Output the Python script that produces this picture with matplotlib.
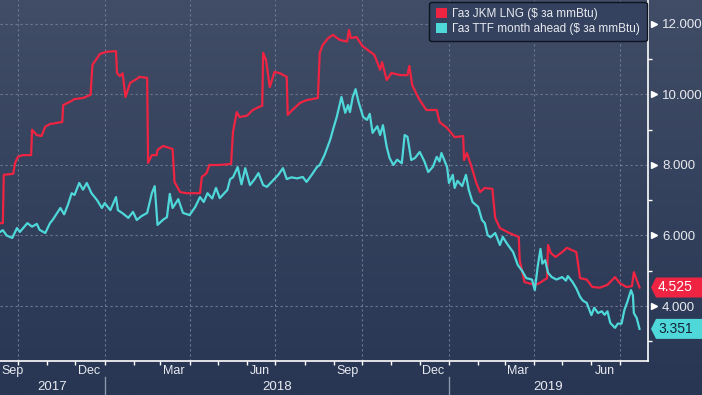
import numpy as np
import pandas as pd
import matplotlib
matplotlib.use("Agg")
import matplotlib.pyplot as plt
import matplotlib.dates as mdates
from matplotlib.patches import Patch, Polygon

plt.rcParams['font.family'] = ['Liberation Sans', 'DejaVu Sans']

# --- data ---
JKM_LABEL = "Газ JKM LNG ($ за mmBtu)"
TTF_LABEL = "Газ TTF month ahead ($ за mmBtu)"

jkm_dates = ["2017-09-12", "2017-09-15", "2017-09-16", "2017-09-26", "2017-09-28", "2017-10-01",
             "2017-10-06", "2017-10-15", "2017-10-16", "2017-10-21", "2017-10-26", "2017-10-30",
             "2017-11-04", "2017-11-17", "2017-11-18", "2017-11-25", "2017-11-30", "2017-12-09",
             "2017-12-17", "2017-12-19", "2017-12-27", "2018-01-03", "2018-01-13", "2018-01-14",
             "2018-01-17", "2018-01-20", "2018-01-23", "2018-01-28", "2018-02-04", "2018-02-07",
             "2018-02-15", "2018-02-16", "2018-02-20", "2018-02-25", "2018-02-26", "2018-03-04",
             "2018-03-11", "2018-03-14", "2018-03-16", "2018-03-22", "2018-03-29", "2018-04-12",
             "2018-04-14", "2018-04-19", "2018-04-22", "2018-05-03", "2018-05-15", "2018-05-17",
             "2018-05-21", "2018-05-24", "2018-06-01", "2018-06-07", "2018-06-14", "2018-06-17",
             "2018-06-18", "2018-06-21", "2018-06-25", "2018-06-30", "2018-07-06", "2018-07-13",
             "2018-07-14", "2018-07-19", "2018-07-27", "2018-08-03", "2018-08-15", "2018-08-17",
             "2018-08-20", "2018-08-26", "2018-08-31", "2018-09-07", "2018-09-15", "2018-09-17",
             "2018-09-19", "2018-09-25", "2018-10-01", "2018-10-07", "2018-10-14", "2018-10-20",
             "2018-10-22", "2018-10-27", "2018-11-01", "2018-11-10", "2018-11-18", "2018-11-20",
             "2018-11-23", "2018-11-28", "2018-12-01", "2018-12-08", "2018-12-19", "2018-12-22",
             "2018-12-30", "2019-01-07", "2019-01-16", "2019-01-17", "2019-01-20", "2019-01-25",
             "2019-01-30", "2019-02-03", "2019-02-08", "2019-02-16", "2019-02-19", "2019-02-24",
             "2019-03-06", "2019-03-16", "2019-03-17", "2019-03-22", "2019-03-30", "2019-04-05",
             "2019-04-15", "2019-04-16", "2019-04-19", "2019-04-24", "2019-05-01", "2019-05-06",
             "2019-05-16", "2019-05-20", "2019-05-27", "2019-06-02", "2019-06-10", "2019-06-18",
             "2019-06-26", "2019-07-01", "2019-07-08", "2019-07-14", "2019-07-16", "2019-07-22"]
jkm_vals = [6.35, 6.35, 7.72, 7.75, 8.06, 8.23,
            8.28, 8.28, 9.00, 8.85, 8.82, 9.09,
            9.16, 9.22, 9.70, 9.79, 9.87, 9.90,
            9.99, 10.84, 11.15, 11.21, 11.23, 10.61,
            10.52, 10.60, 9.93, 10.33, 10.44, 10.50,
            10.47, 8.06, 8.28, 8.28, 8.43, 8.54,
            8.48, 8.45, 7.52, 7.23, 7.20, 7.20,
            7.66, 7.77, 8.00, 8.00, 8.03, 8.94,
            9.50, 9.36, 9.40, 9.56, 9.65, 9.68,
            11.18, 10.98, 10.21, 10.64, 10.60, 10.50,
            9.42, 9.56, 9.76, 9.84, 9.90, 11.18,
            11.40, 11.60, 11.69, 11.55, 11.50, 11.83,
            11.60, 11.63, 11.38, 11.26, 11.12, 10.70,
            10.92, 10.41, 10.61, 10.55, 10.55, 10.81,
            10.27, 9.99, 9.84, 9.56, 9.56, 9.22,
            9.05, 8.79, 8.82, 8.14, 8.34, 7.94,
            7.49, 7.23, 7.35, 7.32, 6.50, 6.21,
            6.07, 5.96, 5.30, 4.68, 4.62, 4.62,
            4.79, 5.73, 5.50, 5.39, 5.53, 5.65,
            5.53, 4.79, 4.75, 4.54, 4.52, 4.60,
            4.82, 4.65, 4.54, 4.56, 4.96, 4.525]

ttf_dates = ["2017-09-12", "2017-09-15", "2017-09-19", "2017-09-25", "2017-09-30", "2017-10-03",
             "2017-10-11", "2017-10-16", "2017-10-21", "2017-10-24", "2017-10-30", "2017-11-04",
             "2017-11-07", "2017-11-15", "2017-11-19", "2017-11-23", "2017-11-27", "2017-11-30",
             "2017-12-05", "2017-12-09", "2017-12-13", "2017-12-18", "2017-12-24", "2017-12-29",
             "2018-01-01", "2018-01-07", "2018-01-13", "2018-01-15", "2018-01-20", "2018-01-26",
             "2018-01-31", "2018-02-04", "2018-02-09", "2018-02-15", "2018-02-20", "2018-02-23",
             "2018-02-26", "2018-03-04", "2018-03-08", "2018-03-11", "2018-03-14", "2018-03-20",
             "2018-03-25", "2018-04-01", "2018-04-07", "2018-04-12", "2018-04-16", "2018-04-20",
             "2018-04-25", "2018-04-29", "2018-05-03", "2018-05-11", "2018-05-14", "2018-05-17",
             "2018-05-22", "2018-05-26", "2018-05-30", "2018-06-04", "2018-06-09", "2018-06-13",
             "2018-06-18", "2018-06-22", "2018-06-28", "2018-07-04", "2018-07-09", "2018-07-13",
             "2018-07-18", "2018-07-24", "2018-07-30", "2018-08-03", "2018-08-09", "2018-08-14",
             "2018-08-17", "2018-08-22", "2018-08-28", "2018-08-31", "2018-09-04", "2018-09-09",
             "2018-09-13", "2018-09-16", "2018-09-18", "2018-09-21", "2018-09-24", "2018-09-27",
             "2018-10-02", "2018-10-06", "2018-10-09", "2018-10-12", "2018-10-17", "2018-10-20",
             "2018-10-23", "2018-10-27", "2018-10-30", "2018-11-03", "2018-11-07", "2018-11-12",
             "2018-11-15", "2018-11-18", "2018-11-22", "2018-11-26", "2018-12-01", "2018-12-06",
             "2018-12-10", "2018-12-15", "2018-12-19", "2018-12-22", "2018-12-24", "2018-12-30",
             "2019-01-01", "2019-01-05", "2019-01-07", "2019-01-10", "2019-01-15", "2019-01-19",
             "2019-01-22", "2019-01-26", "2019-02-01", "2019-02-05", "2019-02-08", "2019-02-11",
             "2019-02-14", "2019-02-19", "2019-02-24", "2019-02-27", "2019-03-04", "2019-03-10",
             "2019-03-15", "2019-03-19", "2019-03-24", "2019-03-30", "2019-04-02", "2019-04-05",
             "2019-04-08", "2019-04-10", "2019-04-13", "2019-04-16", "2019-04-20", "2019-04-25",
             "2019-05-01", "2019-05-05", "2019-05-07", "2019-05-12", "2019-05-16", "2019-05-20",
             "2019-05-23", "2019-05-27", "2019-06-01", "2019-06-04", "2019-06-08", "2019-06-12",
             "2019-06-15", "2019-06-18", "2019-06-21", "2019-06-26", "2019-06-29", "2019-07-03",
             "2019-07-06", "2019-07-09", "2019-07-13", "2019-07-15", "2019-07-16", "2019-07-19",
             "2019-07-22"]
ttf_vals = [6.10, 6.15, 6.00, 5.93, 6.21, 6.10,
            6.35, 6.25, 6.33, 6.16, 6.07, 6.35,
            6.45, 6.78, 6.60, 6.87, 7.20, 7.15,
            7.49, 7.30, 7.49, 7.20, 7.00, 6.78,
            6.92, 6.72, 7.09, 6.72, 6.63, 6.50,
            6.67, 6.44, 6.55, 6.64, 7.20, 7.40,
            6.30, 6.45, 6.52, 7.18, 6.78, 7.03,
            6.64, 6.58, 6.81, 7.09, 6.95, 7.20,
            7.05, 7.35, 7.06, 7.29, 7.60, 7.65,
            7.94, 7.45, 7.91, 7.43, 7.60, 7.77,
            7.43, 7.38, 7.55, 7.72, 7.91, 7.60,
            7.65, 7.62, 7.66, 7.52, 7.74, 7.94,
            8.00, 8.28, 8.71, 9.00, 9.36, 9.93,
            9.48, 9.70, 9.50, 9.93, 10.15, 9.80,
            9.36, 9.28, 9.45, 8.91, 9.10, 8.85,
            9.13, 8.51, 8.20, 8.00, 8.15, 8.05,
            8.85, 8.80, 8.14, 8.20, 8.37, 8.10,
            7.80, 7.95, 8.23, 8.10, 8.34, 7.94,
            7.49, 7.72, 7.35, 7.55, 7.40, 7.72,
            7.29, 6.95, 6.81, 6.44, 6.35, 6.01,
            5.95, 6.07, 5.73, 5.96, 5.75, 5.53,
            5.16, 5.02, 4.79, 4.75, 4.45, 5.11,
            5.62, 5.20, 5.30, 4.94, 4.82, 4.75,
            4.82, 4.72, 4.85, 4.68, 4.50, 4.26,
            4.15, 4.09, 3.74, 3.95, 3.80, 3.85,
            3.75, 3.85, 3.52, 3.38, 3.50, 3.50,
            3.89, 4.11, 4.45, 4.30, 3.80, 3.66,
            3.351]

y_ticks = [4, 6, 8, 10, 12]
month_labels = ["Sep", "Dec", "Mar", "Jun", "Sep", "Dec", "Mar", "Jun"]
month_label_dates = ["2017-09-15", "2017-12-15", "2018-03-15", "2018-06-15",
                     "2018-09-15", "2018-12-15", "2019-03-15", "2019-06-15"]
years = [2017, 2018, 2019]

RED = "#ee2442"
CYAN = "#4fd8da"
GRID = "#6c7a94"
TXT = "#e8eaef"

jkm_d = pd.to_datetime(jkm_dates)
ttf_d = pd.to_datetime(ttf_dates)
x_start, x_end = pd.Timestamp("2017-09-12"), pd.Timestamp("2019-07-31")
y_lo, y_hi = 2.44, 12.68

W, H = 702, 395
fig = plt.figure(figsize=(W / 100, H / 100), dpi=100)

# background gradient over the whole figure
bg = fig.add_axes([0, 0, 1, 1], zorder=-10)
grad = np.linspace(0, 1, 256).reshape(-1, 1)
top_c = np.array([65, 77, 102]) / 255
bot_c = np.array([40, 54, 84]) / 255
img = top_c[None, None, :] * (1 - grad[:, :, None]) + bot_c[None, None, :] * grad[:, :, None]
bg.imshow(img, aspect='auto', extent=[0, 1, 0, 1])
bg.axis('off')

ax_px = 361
ax = fig.add_axes([0, 1 - ax_px / H, 648 / W, ax_px / H])
ax.set_facecolor('none')

ax.plot(jkm_d, jkm_vals, color=RED, lw=1.6, label=JKM_LABEL, zorder=3)
ax.plot(ttf_d, ttf_vals, color=CYAN, lw=1.6, label=TTF_LABEL, zorder=3)

ax.set_xlim(x_start, x_end)
ax.set_ylim(y_lo, y_hi)

# x axis: quarter ticks + monthly minor ticks, labels drawn by hand mid-month
ax.xaxis.set_major_locator(mdates.MonthLocator(bymonth=[1, 4, 7, 10]))
ax.xaxis.set_minor_locator(mdates.MonthLocator())
ax.xaxis.set_major_formatter(plt.NullFormatter())
ax.tick_params(axis='x', which='both', direction='out', length=3, width=1, color='white')

# y axis on right
ax.yaxis.tick_right()
ax.set_yticks(y_ticks)
ax.set_yticklabels([f"{v:.3f}" for v in y_ticks])
ax.set_yticks(np.arange(3, 13, 2), minor=True)
ax.tick_params(axis='y', which='major', length=0, pad=10, labelsize=9.5, labelcolor=TXT)
ax.tick_params(axis='y', which='minor', direction='out', length=3, width=1, color='white')
yax_tr = ax.get_yaxis_transform()
ax.plot([1 + 6 / 648] * len(y_ticks), y_ticks, ls='none', marker='>', ms=5,
        color='white', transform=yax_tr, clip_on=False)

ax.grid(True, which='major', color=GRID, lw=0.8, ls=(0, (2, 2.5)))

for s in ['top', 'left']:
    ax.spines[s].set_visible(False)
for s in ['right', 'bottom']:
    ax.spines[s].set_color('white')
    ax.spines[s].set_linewidth(1.2)

xax_tr = ax.get_xaxis_transform()
for lbl, d in zip(month_labels, month_label_dates):
    d = pd.Timestamp(d)
    if d - pd.Timedelta(days=12) < x_start:
        ax.text(x_start + pd.Timedelta(days=2), -10 / ax_px, lbl, transform=xax_tr,
                ha='left', va='center', fontsize=9, color=TXT)
    else:
        ax.text(d, -10 / ax_px, lbl, transform=xax_tr, ha='center', va='center',
                fontsize=9, color=TXT)

for i, yr in enumerate(years):
    lo = max(pd.Timestamp(f"{yr}-01-01"), x_start)
    hi = min(pd.Timestamp(f"{yr + 1}-01-01"), x_end)
    mid = lo + (hi - lo) / 2
    ax.text(mid, -26 / ax_px, str(yr), transform=xax_tr, ha='center', va='center',
            fontsize=9.5, color=TXT)
    if i > 0:
        ax.plot([lo, lo], [-16 / ax_px, -36 / ax_px], color='#8a95a8', lw=1,
                transform=xax_tr, clip_on=False)

# last value tags
unit_px = ax_px / (y_hi - y_lo)
half = 10 / unit_px
for val, col, tcol in [(jkm_vals[-1], RED, 'white'), (ttf_vals[-1], CYAN, '#14233a')]:
    x0 = 1 + 3 / 648
    x1 = 1 + 8 / 648
    x2 = 1 + 56 / 648
    poly = Polygon([(x0, val), (x1, val + half), (x2, val + half), (x2, val - half), (x1, val - half)],
                   closed=True, facecolor=col, edgecolor='none', transform=yax_tr, clip_on=False, zorder=5)
    ax.add_patch(poly)
    ax.text(1 + 10 / 648, val, f"{val:.3f}", transform=yax_tr, ha='left', va='center',
            fontsize=10, color=tcol, zorder=6, clip_on=False)

handles = [Patch(facecolor=RED, label=JKM_LABEL), Patch(facecolor=CYAN, label=TTF_LABEL)]
leg = ax.legend(handles=handles, loc='upper right', bbox_to_anchor=(1.0, 0.998),
                fontsize=8.5, frameon=True, facecolor='#34425f', edgecolor='#0d1420',
                framealpha=1, fancybox=True, handlelength=0.9, handleheight=0.9,
                handletextpad=0.5, borderpad=0.55, labelspacing=0.2, borderaxespad=0.1)
for t in leg.get_texts():
    t.set_color(TXT)
leg.get_frame().set_linewidth(1)

fig.savefig("out.png", dpi=100)
